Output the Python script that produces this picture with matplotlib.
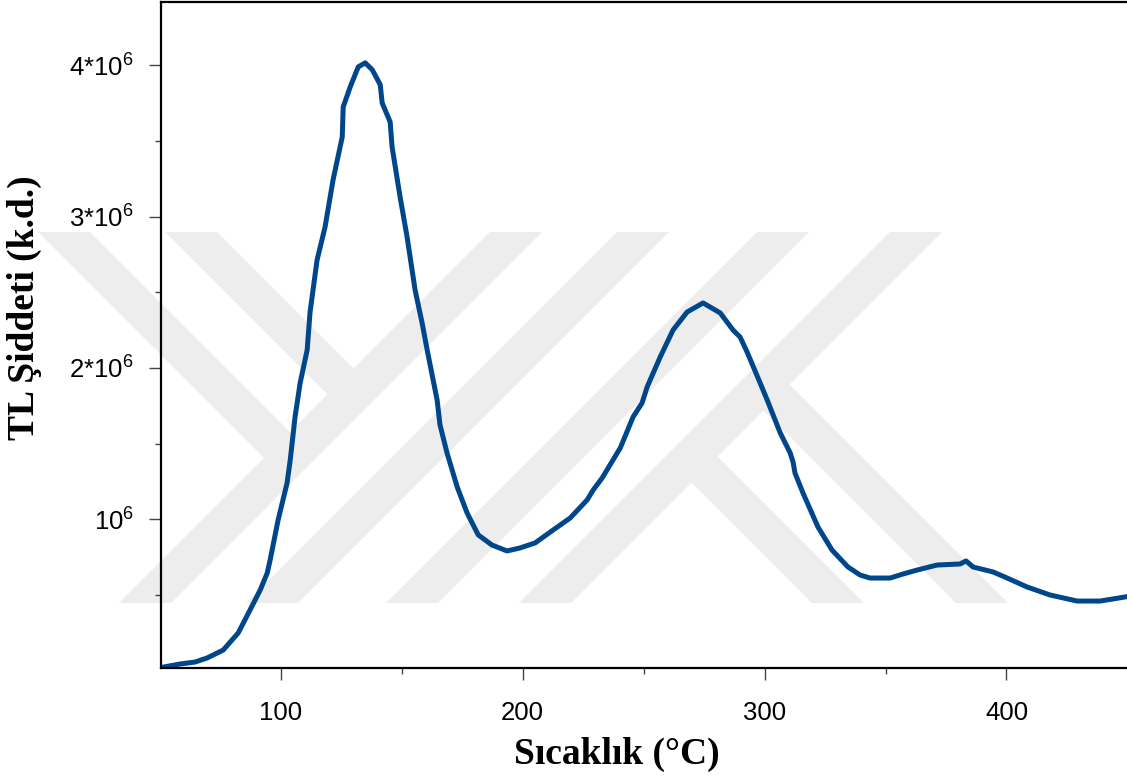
import numpy as np
import matplotlib
matplotlib.use("Agg")
import matplotlib.pyplot as plt
from matplotlib.patches import Polygon
from matplotlib.ticker import FixedLocator, FixedFormatter

plt.rcParams['font.family'] = ['Liberation Sans', 'DejaVu Sans']
plt.rcParams['mathtext.fontset'] = 'custom'
plt.rcParams['mathtext.rm'] = 'Liberation Sans'
plt.rcParams['mathtext.default'] = 'rm'

# TL glow curve
sicaklik = [50.7, 58.5, 64.7, 69.7, 76.3, 82.5, 87.4, 91.6, 94.5, 95.7,
            99.0, 102.7, 104.0, 106.0, 108.1, 111.0, 112.2, 115.1, 118.4, 121.7,
            125.5, 125.9, 128.8, 132.1, 135.0, 137.9, 141.2, 142.0, 145.3, 146.1,
            149.4, 152.3, 155.6, 158.5, 160.6, 164.7, 165.9, 168.8, 173.0, 177.1,
            181.7, 187.4, 193.6, 199.0, 205.2, 212.7, 219.7, 226.7, 229.2, 232.9,
            240.4, 245.7, 249.4, 251.5, 256.9, 262.2, 268.0, 274.6, 281.7, 287.0,
            289.9, 292.8, 298.2, 301.1, 306.5, 310.6, 311.8, 312.6, 315.9, 322.1,
            327.9, 334.5, 339.5, 343.6, 351.9, 357.3, 363.1, 371.3, 380.8, 383.3,
            386.2, 394.5, 400.3, 408.5, 418.0, 429.2, 438.7, 449.0]
siddet = np.array([0.020, 0.043, 0.056, 0.083, 0.135, 0.248, 0.400, 0.532, 0.644, 0.730,
                   0.995, 1.239, 1.391, 1.676, 1.900, 2.118, 2.369, 2.713, 2.931, 3.242,
                   3.526, 3.725, 3.857, 3.989, 4.016, 3.970, 3.871, 3.751, 3.625, 3.460,
                   3.130, 2.865, 2.515, 2.297, 2.118, 1.788, 1.623, 1.438, 1.213, 1.041,
                   0.896, 0.829, 0.790, 0.810, 0.843, 0.929, 1.008, 1.127, 1.193, 1.272,
                   1.471, 1.676, 1.768, 1.874, 2.072, 2.250, 2.369, 2.429, 2.363, 2.250,
                   2.204, 2.105, 1.900, 1.788, 1.570, 1.438, 1.378, 1.305, 1.173, 0.948,
                   0.796, 0.684, 0.631, 0.611, 0.611, 0.638, 0.664, 0.697, 0.704, 0.724,
                   0.684, 0.651, 0.611, 0.552, 0.499, 0.459, 0.459, 0.486]) * 1e6

x_ticks = [100, 200, 300, 400]
x_minor = [150, 250, 350]
y_ticks = [1e6, 2e6, 3e6, 4e6]
y_labels = [r'$10^6$', r'$2$*$10^6$', r'$3$*$10^6$', r'$4$*$10^6$']
y_minor = [0.5e6, 1.5e6, 2.5e6, 3.5e6]

fig = plt.figure(figsize=(11.27, 7.78), dpi=100)

# light page logo in the background (pixel coordinates, y downwards)
bg = fig.add_axes([0, 0, 1, 1], zorder=0)
bg.set_xlim(0, 1127)
bg.set_ylim(778, 0)
bg.axis('off')

Y0, Y1, HW = 232, 603, 26


def band(xc, s):
    T = Y1 - Y0
    return [(xc - HW, Y0), (xc + HW, Y0), (xc + HW + s * T, Y1), (xc - HW + s * T, Y1)]


def cut_band(xc, s, cxc, cs, from_top):
    e1, e2 = xc - HW, xc + HW
    t1 = (cxc - e1) / (s - cs)
    t2 = (cxc - e2) / (s - cs)
    T = Y1 - Y0
    if from_top:
        return [(e1, Y0), (e2, Y0), (e2 + s * t2, Y0 + t2), (e1 + s * t1, Y0 + t1)]
    return [(e1 + s * t1, Y0 + t1), (e2 + s * t2, Y0 + t2), (e2 + s * T, Y1), (e1 + s * T, Y1)]


shapes = [band(516, -1), band(643, -1), band(783, -1), band(916, -1),
          cut_band(64, 1, 516, -1, True), cut_band(191, 1, 516, -1, True),
          cut_band(467, 1, 916, -1, False), cut_band(611, 1, 916, -1, False)]
for pts in shapes:
    bg.add_patch(Polygon(pts, closed=True, fc='#ededed', ec='none'))

ax = fig.add_axes([161 / 1127, 110 / 778, 966 / 1127, 666 / 778], zorder=1)
ax.set_facecolor('none')
ax.plot(sicaklik, siddet, color='#00468a', lw=3.6, solid_joinstyle='round')

ax.set_xlim(50.6, 449.8)
ax.set_ylim(0.0165e6, 4.418e6)

ax.xaxis.set_major_locator(FixedLocator(x_ticks))
ax.xaxis.set_minor_locator(FixedLocator(x_minor))
ax.yaxis.set_major_locator(FixedLocator(y_ticks))
ax.yaxis.set_major_formatter(FixedFormatter(y_labels))
ax.yaxis.set_minor_locator(FixedLocator(y_minor))

ax.tick_params(which='major', length=8.6, width=1.0, color='#444444',
               labelsize=18.5, direction='out')
ax.tick_params(which='minor', length=4.2, width=1.0, color='#444444', direction='out')
ax.tick_params(axis='x', which='major', pad=15)
ax.tick_params(axis='y', which='major', pad=11)

for side in ['left', 'bottom', 'top']:
    ax.spines[side].set_linewidth(1.6)
    ax.spines[side].set_color('black')
ax.spines['right'].set_visible(False)

lab_font = dict(family=['Liberation Serif', 'DejaVu Serif'], weight='bold', size=27)
ax.set_xlabel('Sıcaklık (°C)', **lab_font)
ax.xaxis.set_label_coords(0.472, -0.103)
ax.set_ylabel('TL Şiddeti (k.d.)', **lab_font)
ax.yaxis.set_label_coords(-0.123, 0.541)

fig.savefig('out.png', dpi=100)
